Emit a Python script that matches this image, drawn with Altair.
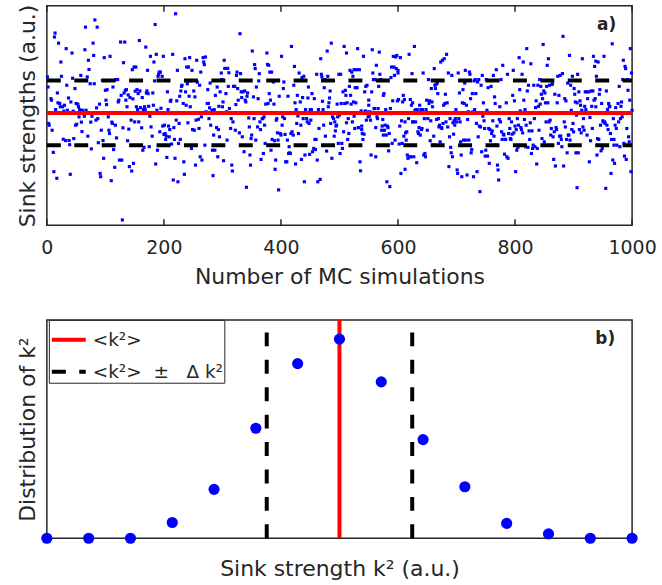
import altair as alt
import pandas as pd

# ---------------- data: panel a (sink strength of each MC run, a.u.) ----------------
seg1 = [67.6, 63, 46.4, 45.6, 66, 57.7, 57, 43.3, 33.2, 24.4, 85.8, 87.6, 52.7, 21.4, 60.3, 55.8, 83, 55.5, 54,
        74.4, 67.9, 54, 39.2, 52, 54.7, 38.6, 80.5, 63.8, 52.4, 58, 38.6, 36.7, 23.2, 56.2, 78.5, 67, 52, 39.5,
        62.3, 45.6, 55.5, 46, 55.2, 54, 49.4, 52.7, 68.3, 47, 42.7, 52.4, 66, 49.7, 80, 90.3, 52.4, 67.6, 40.6,
        75.2, 71, 64.5, 47, 34.8, 49.7, 83, 77.4, 64.5, 93.6, 47.9, 53.5, 90.3, 48.6, 37.6, 55.2, 23.6, 22.1,
        43.3, 66, 38.6, 30.5, 76.4, 61.5, 57, 55, 61.8, 49.4, 43.3, 41.8, 77, 20.3, 47, 46.4, 63, 34.5, 26.4,
        45.6, 66.4, 39.8, 66.4, 56.2, 57, 29.7]
seg2 = [83.5, 59.2, 29.7, 2.4, 44.4, 74.1, 60.3, 83.5, 61.5, 57, 61.8, 54, 38.5, 59.4, 43.8, 26.7, 58.2, 47.9,
        24.7, 70.9, 57.6, 28.2, 72.1, 47.1, 61.1, 72.1, 54, 61.8, 52.7, 60, 47.1, 84.2, 61.2, 53.6, 44.4, 58.2,
        34.2, 52.7, 35.5, 54, 52.7, 81.2, 60.3, 61.2, 70.6, 60, 54.2, 35.8, 49.7, 77, 44.8, 40.6, 60.3, 54.7,
        74.4, 65.8, 91.5, 27.9, 77.9, 52.4, 34.2, 67.9, 68.8, 69.8, 42.6, 69.8, 53.3, 67.9, 45.2, 77, 41.4, 45.6,
        41.8, 39.1, 40.6, 30.9, 60.8, 52.7, 45.2, 40.3, 43.6, 56.5, 57, 37, 77.9, 20.6, 44.5, 39.1, 30.5, 96.4,
        47.9, 56.7, 70.6, 19.8, 37.3, 46.4, 58.8, 39.1, 61.2, 63.3, 63.8, 55.5, 28.9, 23.2, 75.9, 60.8, 54.7,
        72.1, 64.5, 46.7, 72.1, 58.8, 76.4, 54, 65.8, 35, 70.6, 43.6]
seg3 = [61.2, 43.3, 58.5, 27.4, 47.9, 75.2, 65.2, 48.3, 44.1, 63.8, 31.2, 69.8, 49.4, 29.7, 76.4, 74.4, 73.2,
        36.5, 76.7, 51.7, 55.5, 61.8, 55.5, 48.6, 53.5, 64.8, 45.6, 52.4, 34.2, 22.6, 41.1, 52.7, 34.2, 59.2,
        44.5, 63, 31.2, 43.6, 54.2, 40.3, 60.8, 69.4, 66.4, 54, 56.2, 29.4, 75.2, 71.5, 60, 51.7, 38.8, 71.5,
        63.3, 69.5, 53.2, 44.1, 48.6, 27.4, 24.7, 47.1, 63.3, 63.3, 43.3, 55, 68.3, 69.8, 62.3, 57, 42.1, 87.3,
        69.1, 60.8, 58.2, 40.3, 60.8, 33.5, 61.2, 57, 56.2, 17.3, 58.8, 60.3, 48.9, 44.8, 32, 27.4, 39.5, 41.1,
        79.4, 58.5, 48.6, 73.2, 71.4, 38.8, 63, 44.8, 57.7, 65.8, 69.1, 47.1, 43.6, 30, 48.6, 48.6, 32.7, 49.4,
        45.6, 37.3, 55.2]
seg4 = [78.5, 73.3, 55.5, 72.9, 60, 69.8, 57, 34.2, 69.8, 39.1, 65.3, 55.2, 38.5, 25.5, 29.7, 47.9, 48.6, 42.1,
        38.8, 16.1, 58.8, 41.8, 41.1, 77, 45.6, 49.4, 62.3, 65.3, 48.6, 41.4, 28.9, 28.9, 38.8, 58.8, 32.7, 35.8,
        33, 32.7, 41.8, 81.5, 42.6, 41.1, 63.8, 72.4, 55.8, 27.9, 52.7, 46.4, 59.2, 49.8, 41.8, 69.4, 56.2, 45.6,
        30, 67.3, 58.2, 48.6, 67.9, 19.8, 32, 52.7, 48.6, 47.1, 58, 63, 46.4, 32.3, 52.7, 47.9, 52.7, 60, 33.5,
        35, 57.7, 39.1, 34.5, 39.1, 68.8, 29.7, 19.8, 52.7, 44.1, 20.9, 75.9, 68.8, 67.6, 56.5, 52.7, 45.6, 62.7,
        66.4, 40.6, 33.8, 79.4, 67.9, 54, 55.8, 58, 61.2, 46.4, 83, 30.5, 49.4, 48.6, 40.6, 47.1, 43, 45.2, 45.6,
        55.2, 49.4, 37.3, 68.8]
seg5 = [50.2, 32.7, 68.8, 55.5, 37.3, 35, 60.8, 42.6, 81.5, 55.5, 61.5, 59.2, 46.7, 78.5, 55.8, 39.1, 48.6, 41.8,
        63.3, 70.6, 59.2, 55.2, 69.8, 47.1, 67.9, 56.2, 70.9, 49.7, 44.1, 62.7, 55.8, 70.9, 62.7, 80.5, 44.5,
        44.5, 70.9, 28.9, 24.8, 52.1, 45.2, 43.6, 41.8, 39.1, 77, 41.5, 60.8, 52.1, 63.3, 47.9, 63.8, 51.7, 49.4,
        57, 54.7, 49.7, 51.7, 47.9, 32, 60.8, 80, 69.4, 66.4, 53.2, 53.2, 66.4, 44.5, 31.2, 72.9, 49.4, 48.6,
        53.2, 63.3, 78.9, 68.8, 66.4, 66.4, 43.3, 45.2, 48.2, 59.2, 41.1, 60, 43.3, 45.6, 52.7, 41.1, 19.8, 45.2,
        44.5, 33.9, 41.8, 17.6, 53.2, 67.3, 50.9, 72.1, 37.3, 56.7, 77, 72.1, 68.3, 38.8, 76.7, 71.4, 77.4, 56.7,
        69.4, 70.6, 57.3, 37, 45.2, 76.4, 23.6, 47.6, 37.3, 56.2, 59.2, 40.6, 57.3, 47.1, 25.5, 42.1, 38.8, 42.6,
        32, 30.5, 48.6, 77.9, 31.2, 57.3, 31.2, 54.7, 69.1, 47.1]
seg6 = [55.8, 47.1, 31.2, 81.5, 52.4, 47.1, 52.7, 28.5, 52.7, 42.6, 41.8, 44.5, 54.7, 41.1, 52.7, 43.6, 44.1,
        52.7, 69.4, 32, 48.6, 32.7, 31.2, 52.7, 57, 43.3, 48.6, 66.4, 55.5, 56.7, 38.5, 47.6, 62.3, 56.2, 54,
        36.5, 40.6, 71.4, 63.8, 62.3, 64.2, 48.2, 64.8, 60, 48.6, 44.8, 45.6, 38, 74.4, 44.5, 44.1, 75.2, 46.4,
        54.7, 75.9, 55.5, 59.7, 47.1, 77.9, 55.8, 44.8, 69.4, 26.7, 40.3, 48.6, 35.5, 33, 68.3, 31.2, 46.7, 41.5,
        47.6, 45.6, 48.6, 52.7, 47.1, 25.2, 23.6, 69.4, 48.6, 60.3, 47.1, 38, 32, 22.1, 55.8, 61.8, 38.8, 55.5,
        64.8, 70.6, 38.8, 54.7, 22.9, 48.2, 51.7, 38.8, 69.8, 68.8, 57.7, 33, 34.5, 60, 51.7, 22.1, 65.8, 52.7,
        66.4, 60, 46.4, 24.4, 65.3, 40.3, 66.4, 45.2, 15.3, 44.8, 63.8, 33.5, 68.3, 49.7, 55.8, 47.6, 44.1, 31.5,
        34.2]
seg7 = [66.4, 52.4, 31.5, 62.7, 44.1, 28.2, 43.6, 38.5, 63.3, 41.8, 43, 47.6, 68.3, 40.6, 58.5, 55.5, 36.5,
        70.9, 45.2, 27.4, 25.2, 20.6, 48.2, 54, 47.1, 66.4, 42.6, 39.1, 72.9, 41.5, 41.1, 32.4, 39.1, 39.1, 55.8,
        31.2, 68.8, 30.5, 41.8, 48.6, 44.1, 39.5, 39.1, 47.1, 41.5, 59.2, 70.6, 42.1, 56.7, 45.2, 24.4, 43.6,
        34.2, 48.6, 35.5, 45.6, 76.4, 61.8, 52.1, 44.5, 43.6, 68.8, 42.1, 74.4, 57, 48.2, 52.7, 35.8, 45.6, 80.5,
        61.2, 35.5, 63.8, 43, 39.1, 46.7, 73.6, 32.7, 43, 35, 36.5, 63.8, 48.6, 35.8, 53.6, 56.7, 27.9, 35, 63.8,
        54.2, 43.3, 66.4, 55.2, 63.3, 59.7, 39.5, 57.7, 82.4, 61.2, 38, 60.3, 55.8, 47.1, 63.3, 72.9, 55.8, 75.9,
        47.1, 63.8, 47.9, 41.1, 44.1, 64.2, 64.5, 40.3, 30, 42.6, 59.7, 27, 44.5, 43.6, 55.8, 67.9, 37.3]
seg8 = [59.2, 40.6, 68.3, 40.6, 39.1, 35.8, 69.1, 86.1, 27, 47.1, 57.7, 44.8, 56.7, 39.1, 33, 64.8, 41.1, 41.1,
        77.4, 38.8, 63.8, 52.4, 43.6, 67.9, 46.4, 42.6, 62.3, 59.7, 56.2, 33, 50.2, 55.8, 17.1, 68.8, 33, 60.8,
        43.6, 56.7, 54.7, 42.1, 52.4, 75.9, 44.8, 48.6, 43.3, 54.2, 60.8, 52.7, 60.8, 41.1, 57.7, 50.9, 60.8,
        28.9, 49.1, 38.5, 61.2, 54.2, 44.1, 61.2, 77, 57, 72.4, 57.7, 74.8, 54, 67.9, 32, 39.5, 74.4, 39.1, 59.7,
        61.8, 45.6, 33.9, 55.5, 35, 47.6, 47.1, 77, 47.1, 46.4, 16.8, 61.2, 45.6, 52.7, 43.6, 55.5, 54, 54.2,
        41.8, 23.6, 39.1, 82.7, 29.7, 48.6, 39.1, 36.5, 28.2, 45.6, 53.6, 44.1, 36.5, 50.9, 55.5, 47.1, 63.3,
        35.8, 48.6, 54.2, 56.2, 49.4, 66.4, 75.2, 37.3, 31.5, 72.4, 71.4, 30, 44.1, 66.4, 61.5, 40.3, 38, 57,
        80.5, 24.4, 69.4, 52.4]
segments = [seg1, seg2, seg3, seg4, seg5, seg6, seg7, seg8]
runs_per_segment = 125

mean_k2 = 51.2
delta_k2 = 14.8
x_ticks = [0, 200, 400, 600, 800, 1000]

# ---------------- data: panel b (distribution of k^2) ----------------
bins = list(range(15))
counts = [0, 0, 0, 18, 56, 126, 200, 228, 179, 113, 59, 17, 5, 0, 0]
mean_bin = 7.0
delta_bin = 1.74

NB = "\u00a0"
label_mean = "<k²>"
label_pm = "<k²>" + NB * 2 + "±" + NB * 3 + "Δ" + NB + "k²"

# ---------------- tables ----------------
rows = []
for i, seg in enumerate(segments):
    n = len(seg)
    for j, v in enumerate(seg):
        rows.append({"sim": round(i * runs_per_segment + (j + 0.5) * runs_per_segment / n), "k2": v})
df_runs = pd.DataFrame(rows)
df_mean = pd.DataFrame({"k2": [mean_k2]})
df_pm = pd.DataFrame({"k2": [mean_k2 + delta_k2, mean_k2 - delta_k2]})
df_ticks = pd.DataFrame({"sim": x_ticks})
df_dist = pd.DataFrame({"bin": bins, "count": counts})
df_vlines = pd.DataFrame({"bin": [mean_bin, mean_bin - delta_bin, mean_bin + delta_bin],
                          "series": [label_mean, label_pm, label_pm]})

FONT = "DejaVu Sans"
TXT = "#262626"
W, H1, H2 = 587, 220, 219

# ---------------- panel a ----------------
xa = alt.X("sim:Q", scale=alt.Scale(domain=[0, 1000], nice=False, zero=False),
           axis=alt.Axis(values=x_ticks, format="d", title="Number of MC simulations", grid=False,
                         domain=False, ticks=False, labelPadding=13, labelFontSize=19, titleFontSize=22,
                         titlePadding=9, labelFont=FONT, titleFont=FONT, labelColor=TXT,
                         titleColor=TXT, titleFontWeight="normal", labelFlush=False))
ya = alt.Y("k2:Q", scale=alt.Scale(domain=[0, 100], nice=False, zero=False),
           axis=alt.Axis(title="Sink strengths (a.u.)", labels=False, ticks=False, domain=False,
                         grid=False, titleFontSize=22, titleFont=FONT, titleColor=TXT,
                         titleFontWeight="normal", titlePadding=7))

pts_a = alt.Chart(df_runs).mark_square(size=10, color="#0000FF", opacity=1).encode(x=xa, y=ya)
mean_a = alt.Chart(df_mean).mark_rule(color="#FF0000", strokeWidth=4).encode(
    y=ya, x=alt.value(0), x2=alt.value(W))
pm_a = alt.Chart(df_pm).mark_rule(color="#000000", strokeWidth=4, strokeDash=[14, 13.5]).encode(
    y=ya, x=alt.value(0), x2=alt.value(W))
tick_bot = alt.Chart(df_ticks).mark_rule(color=TXT, strokeWidth=1.5).encode(
    x=xa, y=alt.value(H1), y2=alt.value(H1 - 6))
tick_top = alt.Chart(df_ticks).mark_rule(color=TXT, strokeWidth=1.5).encode(
    x=xa, y=alt.value(0), y2=alt.value(6))
lab_a = alt.Chart(pd.DataFrame({"t": ["a)"]})).mark_text(
    font=FONT, fontSize=17, fontWeight="bold", color=TXT, align="right", baseline="middle").encode(
    text="t:N", x=alt.value(571), y=alt.value(19))

panel_a = alt.layer(pts_a, mean_a, pm_a, tick_bot, tick_top, lab_a).properties(width=W, height=H1)

# ---------------- panel b ----------------
xb = alt.X("bin:Q", scale=alt.Scale(domain=[0, 14], nice=False, zero=False),
           axis=alt.Axis(title="Sink strength k² (a.u.)", labels=False, ticks=False, domain=False,
                         grid=False, titleFontSize=22, titleFont=FONT, titleColor=TXT,
                         titleFontWeight="normal", titlePadding=20))
yb = alt.Y("count:Q", scale=alt.Scale(domain=[0, 250], nice=False, zero=False),
           axis=alt.Axis(title="Distribution of k²", labels=False, ticks=False, domain=False,
                         grid=False, titleFontSize=22, titleFont=FONT, titleColor=TXT,
                         titleFontWeight="normal", titlePadding=7))

leg = alt.Legend(title=None, orient="none", legendX=2, legendY=0, strokeColor=TXT, fillColor="white",
                 padding=1, labelFont=FONT, labelFontSize=18.5, labelColor=TXT, symbolType="stroke",
                 symbolSize=1156, symbolStrokeWidth=4, labelOffset=5, rowPadding=3, cornerRadius=0)
series_domain = [label_mean, label_pm]
vlines = alt.Chart(df_vlines).mark_rule(strokeWidth=4).encode(
    x=xb,
    y=alt.value(H2), y2=alt.value(0),
    color=alt.Color("series:N", scale=alt.Scale(domain=series_domain, range=["#FF0000", "#000000"]),
                    legend=leg),
    strokeDash=alt.StrokeDash("series:N", scale=alt.Scale(domain=series_domain,
                                                          range=[[1, 0], [14, 13.5]]), legend=leg))
pts_b = alt.Chart(df_dist).mark_circle(size=125, color="#0000FF", opacity=1).encode(x=xb, y=yb)
lab_b = alt.Chart(pd.DataFrame({"t": ["b)"]})).mark_text(
    font=FONT, fontSize=17, fontWeight="bold", color=TXT, align="right", baseline="middle").encode(
    text="t:N", x=alt.value(570), y=alt.value(19))

panel_b = alt.layer(vlines, pts_b, lab_b).properties(width=W, height=H2)

chart = alt.vconcat(panel_a, panel_b, spacing=29).resolve_scale(
    color="independent", strokeDash="independent"
).resolve_legend(color="independent", strokeDash="independent").properties(
    padding={"left": 16, "top": 2, "right": 5, "bottom": 5}
).configure(background="white").configure_view(stroke=TXT, strokeWidth=1.5)

chart.save("out.html", embed_options={"renderer": "svg", "actions": False})
